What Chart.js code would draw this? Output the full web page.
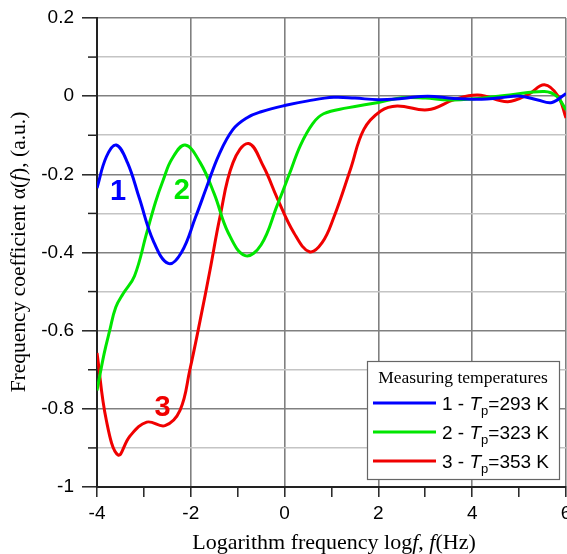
<!DOCTYPE html>
<html>
<head>
<meta charset="utf-8">
<script src="https://cdn.jsdelivr.net/npm/chart.js@4"></script>
<style>
  body { margin: 0; background: #fff; }
  canvas { display: block; }
</style>
</head>
<body>
<canvas id="canvas" width="567" height="554"></canvas>
<script>
// curve 1 - Tp = 293 K
let x1 = [-4, -3.8, -3.59, -3.35, -3.1, -2.8, -2.48, -2.2, -1.9, -1.66, -1.4, -1.1, -0.8, -0.5, 0, 0.5, 1.05, 1.5, 2.0, 2.5, 3.05, 3.6, 4.2, 4.6, 5.04, 5.4, 5.7, 6.0];
let y1 = [-0.235, -0.155, -0.125, -0.17, -0.26, -0.37, -0.428, -0.40, -0.31, -0.232, -0.15, -0.085, -0.055, -0.04, -0.024, -0.012, -0.003, -0.005, -0.009, -0.006, 0.0, -0.006, -0.008, -0.004, 0.0, -0.01, -0.016, 0.007];
// curve 2 - Tp = 323 K
let x2 = [-4, -3.85, -3.73, -3.6, -3.44, -3.2, -2.94, -2.75, -2.59, -2.4, -2.12, -1.8, -1.5, -1.2, -0.84, -0.5, -0.16, 0.1, 0.34, 0.6, 0.83, 1.33, 2.0, 2.5, 3.0, 3.5, 4.2, 4.8, 5.54, 5.8, 6.0];
let y2 = [-0.753, -0.66, -0.6, -0.54, -0.505, -0.46, -0.35, -0.27, -0.215, -0.16, -0.125, -0.17, -0.25, -0.35, -0.408, -0.38, -0.28, -0.2, -0.125, -0.07, -0.045, -0.03, -0.016, -0.004, -0.005, -0.01, -0.005, 0.003, 0.012, 0.0, -0.035];
// curve 3 - Tp = 353 K
let x3 = [-4, -3.8, -3.55, -3.3, -2.94, -2.55, -2.23, -2.02, -1.8, -1.59, -1.38, -1.1, -0.77, -0.45, -0.16, 0.2, 0.53, 0.8, 1.05, 1.41, 1.69, 2.05, 2.4, 3.05, 3.62, 4.12, 4.76, 5.2, 5.54, 5.83, 6.0];
let y3 = [-0.657, -0.83, -0.918, -0.87, -0.834, -0.843, -0.804, -0.70, -0.573, -0.445, -0.31, -0.17, -0.121, -0.18, -0.26, -0.35, -0.398, -0.375, -0.31, -0.185, -0.085, -0.038, -0.025, -0.035, -0.009, 0.003, -0.014, 0.005, 0.029, 0.0, -0.056];

let curveNames = ["1", "2", "3"];
let temperatures = [293, 323, 353];
let colors = ["#0000ff", "#00e600", "#f00000"];
// where the big curve numbers sit, in data units
let nameX = [-3.55, -2.19, -2.6];
let nameY = [-0.245, -0.242, -0.797];

let sans = "'Liberation Sans', Arial, sans-serif";
let serif = "'Liberation Serif', 'Times New Roman', serif";

function pts(xs, ys) {
    return xs.map((x, i) => ({x: x, y: ys[i]}));
}

function isMajor(v) {
    return Math.abs(Math.round(v * 10)) % 2 === 0;
}

function drawRich(ctx, parts, x, y, align) {
    let total = 0;
    parts.forEach((p) => { ctx.font = p.font; total += ctx.measureText(p.text).width; });
    let cx = align === "center" ? x - total / 2 : x;
    ctx.textAlign = "left";
    parts.forEach((p) => {
        ctx.font = p.font;
        ctx.fillText(p.text, cx, y + (p.dy || 0));
        cx += ctx.measureText(p.text).width;
    });
}

let extras = {
    id: "extras",
    afterDatasetsDraw(chart) {
        let ctx = chart.ctx;
        let xs = chart.scales.x, ys = chart.scales.y;
        ctx.save();
        // minor y ticks
        ctx.strokeStyle = "#222";
        ctx.lineWidth = 1.5;
        for (let k = -9; k <= 1; k += 2) {
            let py = ys.getPixelForValue(k / 10);
            ctx.beginPath();
            ctx.moveTo(chart.chartArea.left - 9, py);
            ctx.lineTo(chart.chartArea.left, py);
            ctx.stroke();
        }
        // curve numbers
        ctx.font = "bold 29px " + sans;
        ctx.textAlign = "center";
        ctx.textBaseline = "middle";
        curveNames.forEach((n, i) => {
            ctx.fillStyle = colors[i];
            ctx.fillText(n, xs.getPixelForValue(nameX[i]), ys.getPixelForValue(nameY[i]));
        });
        // legend
        ctx.textBaseline = "alphabetic";
        ctx.fillStyle = "#fff";
        ctx.fillRect(367.5, 361.5, 192, 118);
        ctx.strokeStyle = "#666";
        ctx.lineWidth = 1.2;
        ctx.strokeRect(367.5, 361.5, 192, 118);
        ctx.fillStyle = "#000";
        ctx.font = "17.5px " + serif;
        ctx.textAlign = "center";
        ctx.fillText("Measuring temperatures", 463, 383);
        curveNames.forEach((n, i) => {
            let ly = 403 + i * 29;
            ctx.strokeStyle = colors[i];
            ctx.lineWidth = 3;
            ctx.beginPath();
            ctx.moveTo(373, ly);
            ctx.lineTo(436, ly);
            ctx.stroke();
            ctx.fillStyle = "#000";
            drawRich(ctx, [
                {text: n + " - ", font: "19px " + sans},
                {text: "T", font: "italic 19px " + sans},
                {text: "p", font: "13px " + sans, dy: 5},
                {text: "=" + temperatures[i] + " K", font: "19px " + sans}
            ], 442, ly + 7, "left");
        });
        // axis titles
        ctx.fillStyle = "#000";
        drawRich(ctx, [
            {text: "Logarithm frequency log", font: "22px " + serif},
            {text: "f", font: "italic 22px " + serif},
            {text: ", ", font: "22px " + serif},
            {text: "f", font: "italic 22px " + serif},
            {text: "(Hz)", font: "22px " + serif}
        ], 334, 549, "center");
        ctx.translate(25, 252);
        ctx.rotate(-Math.PI / 2);
        drawRich(ctx, [
            {text: "Frequency coefficient \u03b1(", font: "21.5px " + serif},
            {text: "f", font: "italic 21.5px " + serif},
            {text: "), (a.u.)", font: "21.5px " + serif}
        ], 0, 0, "center");
        ctx.restore();
    }
};

let seriesX = [x1, x2, x3];
let seriesY = [y1, y2, y3];

new Chart(document.getElementById("canvas").getContext("2d"), {
    type: "scatter",
    data: {
        datasets: curveNames.map((n, i) => ({
            label: n + " - Tp=" + temperatures[i] + " K",
            data: pts(seriesX[i], seriesY[i]),
            showLine: true,
            borderColor: colors[i],
            borderWidth: 3,
            pointRadius: 0,
            tension: 0.4,
            fill: false
        }))
    },
    options: {
        responsive: false,
        animation: false,
        layout: {padding: {top: 18, right: 1, left: 0, bottom: 0}},
        plugins: {
            legend: {display: false},
            tooltip: {enabled: false}
        },
        scales: {
            x: {
                type: "linear",
                min: -4,
                max: 6,
                ticks: {
                    stepSize: 1,
                    autoSkip: false,
                    maxRotation: 0,
                    padding: 5,
                    color: "#000",
                    font: {family: sans, size: 19},
                    callback: (v) => (v % 2 === 0 ? String(v) : "")
                },
                grid: {
                    color: (c) => (c.tick && c.tick.value % 2 === 0 ? "#808080" : "rgba(0,0,0,0)"),
                    lineWidth: 1.6,
                    tickColor: "#222",
                    tickWidth: 1.5,
                    tickLength: 10
                },
                border: {color: "#222", width: 2},
                afterFit: (s) => { s.height = 67; s.paddingLeft = 0; s.paddingRight = 0; }
            },
            y: {
                min: -1,
                max: 0.2,
                ticks: {
                    stepSize: 0.1,
                    autoSkip: false,
                    padding: 8,
                    color: "#000",
                    font: {family: sans, size: 19},
                    callback: (v) => (isMajor(v) ? String(Math.round(v * 10) / 10) : "")
                },
                grid: {
                    color: (c) => (c.tick && isMajor(c.tick.value) ? "#808080" : "#c4c4c4"),
                    lineWidth: 1.6,
                    tickColor: (c) => (c.tick && isMajor(c.tick.value) ? "#222" : "rgba(0,0,0,0)"),
                    tickWidth: 1.5,
                    tickLength: 15
                },
                border: {color: "#222", width: 2},
                afterFit: (s) => { s.width = 97; s.paddingTop = 0; s.paddingBottom = 0; }
            }
        }
    },
    plugins: [extras]
});
</script>
</body>
</html>
